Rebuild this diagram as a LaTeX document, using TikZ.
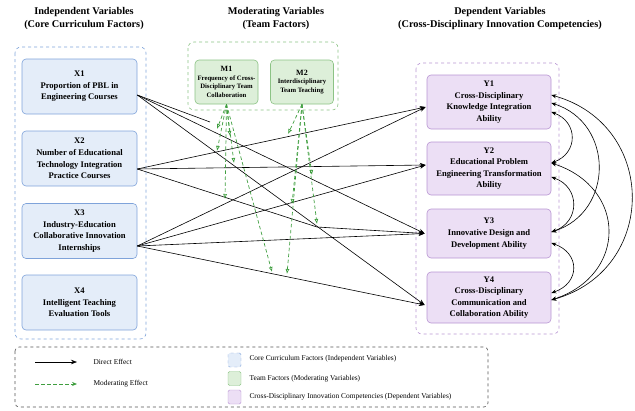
\documentclass[tikz,border=0pt]{standalone}
\usepackage{fontspec}
\setmainfont{Liberation Serif}
\usetikzlibrary{arrows.meta,calc}
\definecolor{bfill}{HTML}{E4EDF9}
\definecolor{bdraw}{HTML}{7FA3DA}
\definecolor{gfill}{HTML}{DDEFD9}
\definecolor{gdraw}{HTML}{8CC385}
\definecolor{pfill}{HTML}{ECDFF5}
\definecolor{pdraw}{HTML}{B895D3}
\definecolor{garrow}{HTML}{3F9E3F}
\definecolor{legdraw}{HTML}{555555}
\begin{document}
\begin{tikzpicture}[x=1pt,y=-1pt,
  grp/.style={dashed, rounded corners=6pt, line width=0.6pt},
  xbox/.style={draw=bdraw, fill=bfill, rounded corners=4pt, minimum width=115pt, minimum height=55pt, align=center, inner sep=1pt, line width=0.6pt, font=\bfseries\fontsize{8.6}{11.6}\selectfont},
  mbox/.style={draw=gdraw, fill=gfill, rounded corners=4pt, minimum width=63pt, minimum height=44pt, align=center, inner sep=1pt, line width=0.6pt, font=\bfseries\fontsize{6.7}{8.6}\selectfont},
  ybox/.style={draw=pdraw, fill=pfill, rounded corners=4pt, minimum width=124pt, align=center, inner sep=1pt, line width=0.6pt, font=\bfseries\fontsize{8.6}{11.6}\selectfont},
  ttl/.style={align=center, font=\bfseries\fontsize{10.3}{13.5}\selectfont},
  direct/.style={-{Stealth[length=6pt,width=4.5pt]}, line width=0.6pt, black},
  plainline/.style={line width=0.6pt, black},
  moder/.style={-{Latex[open,length=5pt,width=4pt]}, garrow, dash pattern=on 3.5pt off 2.5pt, line width=0.7pt},
  corr/.style={{Stealth[length=5pt,width=4pt]}-{Stealth[length=5pt,width=4pt]}, line width=0.6pt, black},
  leg/.style={anchor=west, font=\fontsize{7.4}{9}\selectfont}
]
\useasboundingbox (0,0) rectangle (635,410);

% titles
\node[ttl] (tX) at (84,18.5) {Independent Variables\\(Core Curriculum Factors)};
\node[ttl] (tM) at (276,18.5) {Moderating Variables\\(Team Factors)};
\node[ttl] (tY) at (500,18.5) {Dependent Variables\\(Cross-Disciplinary Innovation Competencies)};

% groups
\draw[grp, draw=bdraw] (15,47) rectangle (146,339);
\draw[grp, draw=gdraw] (188,42) rectangle (338,110);
\draw[grp, draw=pdraw] (416,63) rectangle (559,334);

% X nodes
\node[xbox] (X1) at (79.5,86.5) {X1\\Proportion of PBL in\\Engineering Courses};
\node[xbox] (X2) at (79.5,158.5) {X2\\Number of Educational\\Technology Integration\\Practice Courses};
\node[xbox] (X3) at (79.5,231) {X3\\Industry-Education\\Collaborative Innovation\\Internships};
\node[xbox] (X4) at (79.5,302.5) {X4\\Intelligent Teaching\\Evaluation Tools};

% M nodes
\node[mbox] (M1) at (226.5,82) {{\fontsize{8}{9}\selectfont M1}\\Frequency of Cross-\\Disciplinary Team\\Collaboration};
\node[mbox] (M2) at (302,82) {{\fontsize{8}{10}\selectfont M2}\\Interdisciplinary\\Team Teaching};

% Y nodes
\node[ybox, minimum height=54pt] (Y1) at (489,102) {Y1\\Cross-Disciplinary\\Knowledge Integration\\Ability};
\node[ybox, minimum height=53pt] (Y2) at (489,168.5) {Y2\\Educational Problem\\Engineering Transformation\\Ability};
\node[ybox, minimum height=49pt] (Y3) at (489,233.5) {Y3\\Innovative Design and\\Development Ability};
\node[ybox, minimum height=51pt] (Y4) at (489,297.5) {Y4\\Cross-Disciplinary\\Communication and\\Collaboration Ability};

% anchor points of direct effects
\coordinate (sX1) at ([yshift=-8.5pt]X1.east);
\coordinate (sX2) at ([yshift=-10.5pt]X2.east);
\coordinate (sX3) at ([yshift=-15pt]X3.east);
\coordinate (eY1) at ([xshift=-1pt,yshift=-5pt]Y1.west);
\coordinate (eY2) at ([xshift=-1pt,yshift=3.5pt]Y2.west);
\coordinate (eY3) at ([xshift=-2pt]Y3.west);
\coordinate (eY4) at ([xshift=-2pt,yshift=-7.5pt]Y4.west);
\coordinate (q1) at (210,122);
\coordinate (p1) at (317,227);

% direct effects
\draw[plainline] (sX1) -- (q1);
\draw[direct] (sX1) -- (eY3);
\draw[direct] (sX1) -- (eY4);
\draw[direct] (sX2) -- (eY1);
\draw[direct] (sX2) -- (eY2);
\draw[direct] (sX2) -- (p1) -- (eY3);
\draw[direct] (sX3) -- (eY1);
\draw[direct] (sX3) -- (eY2);
\draw[direct] (sX3) -- (eY3);
\draw[direct] (sX3) -- (eY4);

% moderating effects
\coordinate (ma1) at (217,129);
\coordinate (ma2) at (230,136);
\coordinate (ma3) at (217,151);
\coordinate (ma4) at (234,163);
\coordinate (ma5) at (225,199);
\coordinate (ma6) at (272,272);
\coordinate (mb1) at (288,134);
\coordinate (mb2) at (312,175);
\coordinate (mb3) at (292,204);
\coordinate (mb4) at (317,224);
\coordinate (mb5) at (287,274);
\foreach \t in {ma1,ma2,ma3,ma4,ma5,ma6} \draw[moder] (M1.south) -- (\t);
\foreach \t in {mb1,mb2,mb3,mb4,mb5} \draw[moder] (M2.south) -- (\t);

% correlations among Y
\coordinate (c1a) at ([yshift=7pt]Y1.east);
\coordinate (c1b) at ([yshift=-1pt]Y1.east);
\coordinate (c1c) at ([yshift=-10pt]Y1.east);
\coordinate (c2a) at ([yshift=5.5pt]Y2.east);
\coordinate (c2b) at ([yshift=-8.5pt]Y2.east);
\coordinate (c3a) at ([yshift=1.5pt]Y3.east);
\coordinate (c3b) at ([yshift=-9.5pt]Y3.east);
\coordinate (c4a) at ([yshift=4.5pt]Y4.east);
\coordinate (c4b) at ([yshift=-2.5pt]Y4.east);
\draw[corr] (c1c) .. controls ([xshift=27pt,yshift=-10pt]c1c) and ([xshift=27pt,yshift=10pt]c2a) .. (c2a);
\draw[corr] (c1b) .. controls ([xshift=63pt,yshift=-20pt]c1b) and ([xshift=63pt,yshift=20pt]c3a) .. (c3a);
\draw[corr] (c1a) .. controls ([xshift=107pt,yshift=-30pt]c1a) and ([xshift=107pt,yshift=30pt]c4b) .. (c4b);
\draw[corr] (c2a) .. controls ([xshift=76pt,yshift=-25pt]c2a) and ([xshift=76pt,yshift=25pt]c4b) .. (c4b);
\draw[corr] (c2b) .. controls ([xshift=29pt,yshift=-10pt]c2b) and ([xshift=29pt,yshift=10pt]c3a) .. (c3a);
\draw[corr] (c3b) .. controls ([xshift=29pt,yshift=-10pt]c3b) and ([xshift=29pt,yshift=10pt]c4a) .. (c4a);

% legend
\draw[dashed, draw=legdraw, rounded corners=4pt, line width=0.6pt] (15,347) rectangle (488,407);
\coordinate (l1a) at (35,362); \coordinate (l1b) at (77,362);
\coordinate (l2a) at (35,384); \coordinate (l2b) at (77,384);
\draw[direct] (l1a) -- (l1b);
\draw[moder, -{Stealth[length=5pt,width=4pt]}] (l2a) -- (l2b);
\node[leg] (lt1) at (90,362) {Direct Effect};
\node[leg] (lt2) at (90,384) {Moderating Effect};
\node[draw=bdraw, dashed, fill=bfill, rounded corners=1.5pt, minimum width=13pt, minimum height=14pt, inner sep=0pt] (s1) at (234.5,360) {};
\node[draw=gdraw, fill=gfill, rounded corners=1.5pt, minimum width=13pt, minimum height=14pt, inner sep=0pt] (s2) at (234.5,378.5) {};
\node[draw=pdraw, fill=pfill, rounded corners=1.5pt, minimum width=13pt, minimum height=14pt, inner sep=0pt] (s3) at (234.5,397) {};
\node[leg] (ls1) at (246,359) {Core Curriculum Factors (Independent Variables)};
\node[leg] (ls2) at (246,378.5) {Team Factors (Moderating Variables)};
\node[leg] (ls3) at (246,397) {Cross-Disciplinary Innovation Competencies (Dependent Variables)};
\end{tikzpicture}
\end{document}
